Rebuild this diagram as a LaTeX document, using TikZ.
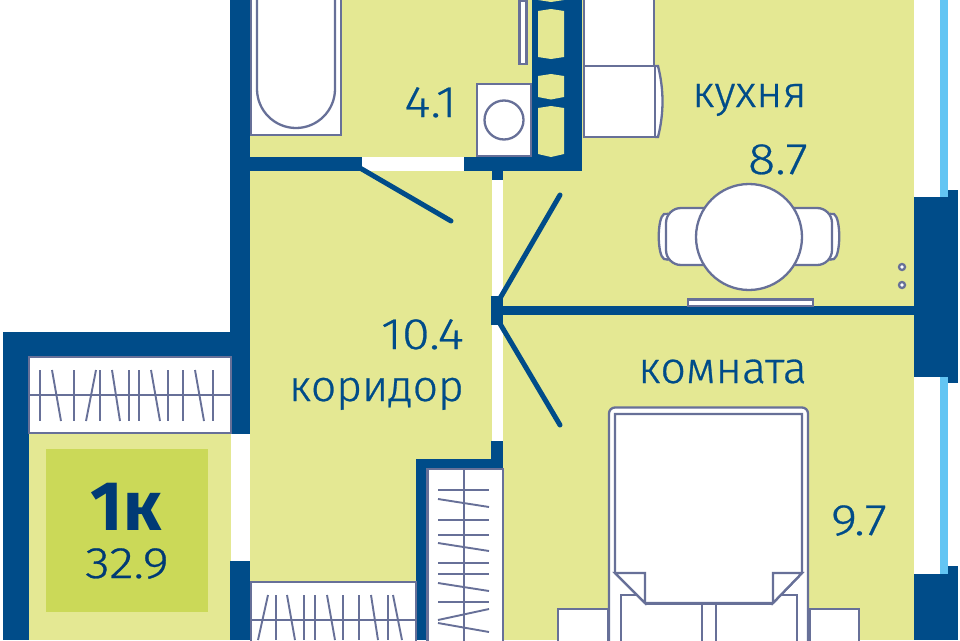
\documentclass[tikz,border=0pt]{standalone}
\usepackage{fontspec}
\setmainfont{Fira Sans Light}[BoldFont={Fira Sans Bold}]
\newfontface\numface{Fira Sans Light}[FakeStretch=1.15,FakeBold=0.6]
\newfontface\wordface{Fira Sans Light}[FakeStretch=1.02,FakeBold=0.6]
\definecolor{wall}{HTML}{004C89}
\definecolor{room}{HTML}{E4E893}
\definecolor{badge}{HTML}{CBD958}
\definecolor{furn}{HTML}{677098}
\definecolor{glass}{HTML}{63C5F3}
\definecolor{inktext}{HTML}{004C89}
\definecolor{darktext}{HTML}{003A75}
\tikzset{
  wallfill/.style={fill=wall,draw=none},
  roomfill/.style={fill=room,draw=none},
  furniture/.style={draw=furn,fill=white,line width=2.3pt},
  tick/.style={draw=furn,line width=1.9pt},
  doorleaf/.style={draw=wall,line width=5pt,line cap=round},
  lbl/.style={text=inktext,font=\fontsize{44}{44}\selectfont\wordface,inner sep=0pt,anchor=base east},
  numlbl/.style={text=inktext,font=\fontsize{44}{44}\selectfont\numface,inner sep=0pt,anchor=base east},
}
\begin{document}
\begin{tikzpicture}[x=1pt,y=-1pt]
\useasboundingbox (0,0) rectangle (960,640);
\fill[white] (0,0) rectangle (960,640);
% floors
\fill[roomfill] (250,0) rectangle (914,640);
\fill[roomfill] (29,433) rectangle (231,640);
% balcony and outer walls
\fill[wallfill] (230,0) rectangle (250,434);
\fill[wallfill] (3,332) rectangle (230,358);
\fill[wallfill] (3,332) rectangle (29,640);
\fill[wallfill] (230,561) rectangle (250,640);
% bathroom partition
\fill[wallfill] (250,157) rectangle (362,171);
\fill[white] (362,157) rectangle (464,171);
\fill[wallfill] (464,157) rectangle (582,171);
\fill[wallfill] (532,0) rectangle (582,171);
% shafts
\fill[roomfill] (538,-3) -- (564,-3) -- (564,0) -- (551,2) -- (538,0) -- cycle;
\fill[roomfill] (538,11) -- (551,9) -- (564,11) -- (564,57) -- (551,59) -- (538,57) -- cycle;
\fill[roomfill] (538,76) -- (551,74) -- (564,76) -- (564,97) -- (551,99.5) -- (538,97) -- cycle;
\fill[roomfill] (538,108) -- (551,106) -- (564,108) -- (564,154) -- (551,157) -- (538,154) -- cycle;
% corridor partition
\fill[wallfill] (492,171) rectangle (503,180);
\fill[white] (492,180) rectangle (503,296);
\fill[wallfill] (491,296) rectangle (503,325);
\fill[white] (492,325) rectangle (503,441);
\fill[wallfill] (491,441) rectangle (503,468);
\fill[wallfill] (416,459) rectangle (503,469);
\fill[wallfill] (416,459) rectangle (427,640);
\fill[wallfill] (503,306) rectangle (914,315);
% right wall and windows
\fill[white] (914,0) rectangle (940,197);
\fill[glass] (940,0) rectangle (948,197);
\fill[wallfill] (914,197) rectangle (948,377);
\fill[wallfill] (948,190) rectangle (958,383);
\fill[white] (914,377) rectangle (940,574);
\fill[glass] (940,377) rectangle (948,574);
\fill[wallfill] (914,574) rectangle (948,640);
\fill[wallfill] (948,566) rectangle (958,640);
% doors
\coordinate (d1a) at (360,168); \coordinate (d1b) at (451,221);
\coordinate (d2a) at (499,300); \coordinate (d2b) at (560,195);
\coordinate (d3a) at (499,322); \coordinate (d3b) at (560,425);
\draw[doorleaf] (d1a) -- (d1b);
\draw[doorleaf] (d2a) -- (d2b);
\draw[doorleaf] (d3a) -- (d3b);
% balcony wardrobe
\draw[furniture] (29,357) rectangle (231,433);
\draw[tick] (29,395) -- (231,395);
\foreach \a/\b in {40/40,52/61,74/74,96/86,100/100,112/120,129/129,139/139,151/160,168/168,183/183,195/204,213/213}
  \draw[tick] (\a,370) -- (\b,421);
% lower-left wardrobe
\draw[furniture] (251,582) rectangle (416,645);
\draw[tick] (250,620) -- (416,620);
\foreach \a/\b in {268/258,276/276,287/295,304/304,315/315,327/335,343/343,359/359,371/378,388/388,393/402}
  \draw[tick] (\a,595) -- (\b,640);
% corridor wardrobe
\draw[furniture] (427.5,469) rectangle (503,645);
\draw[tick] (464,469) -- (464,645);
\foreach \a/\b in {490/490,499/507,520/520,535/535,543/551,563/563,574/574,583/591,602/602,620/609,623/632}
  \draw[tick] (438,\a) -- (489,\b);
% bath
\draw[furniture] (251,-3) rectangle (341,135);
\draw[furniture] (257,-3) -- (257,89) .. controls (257,110.5) and (274.5,128) .. (296,128) .. controls (317.5,128) and (335,110.5) .. (335,89) -- (335,-3);
% hand rail and washer
\draw[furniture] (519.5,1) rectangle (526.5,64);
\draw[furniture] (477,84) rectangle (531,156);
\draw[furniture] (504,120) circle[radius=19.5];
% kitchen units
\draw[furniture] (584,-3) rectangle (654,66);
\draw[furniture] (655,66) -- (658,66) .. controls (664,90) and (664,113) .. (658,137) -- (655,137);
\draw[furniture] (584,66) rectangle (655,137);
% table and chairs
\draw[furniture] (664,214) .. controls (657,218) and (657,255) .. (664,259) .. controls (667,260) and (669,260) .. (671,258) -- (671,216) .. controls (669,214) and (667,213) .. (664,214) -- cycle;
\draw[furniture] (834,214) .. controls (841,218) and (841,255) .. (834,259) .. controls (831,260) and (829,260) .. (827,258) -- (827,216) .. controls (829,214) and (831,213) .. (834,214) -- cycle;
\draw[furniture,rounded corners=15pt] (710,208) -- (666,208) -- (666,265) -- (710,265);
\draw[furniture,rounded corners=15pt] (790,208) -- (832,208) -- (832,265) -- (790,265);
\draw[furniture] (749,237) circle[radius=53];
% radiator and pipes
\draw[furniture] (688,299.5) rectangle (813,306);
\draw[furniture] (902,267) circle[radius=3];
\draw[furniture] (902,285) circle[radius=3];
% nightstands
\draw[furniture] (558,609) rectangle (608,645);
\draw[furniture] (810,609) rectangle (859,645);
% bed
\draw[furniture,rounded corners=6pt] (609,645) -- (609,407.5) -- (808,407.5) -- (808,645);
\draw[furniture] (621,595) rectangle (702,645);
\draw[furniture] (716,595) rectangle (797,645);
\draw[furniture] (615,573) -- (615,414) -- (802,414) -- (802,573) -- (773,603) -- (645,603) -- cycle;
\draw[furniture] (615,573) -- (645,573) -- (645,603) -- cycle;
\draw[furniture] (802,573) -- (773,573) -- (773,603) -- cycle;
\draw[draw=furn,line width=3.5pt] (645,603.5) -- (773,603.5);
% badge
\fill[badge] (46,449) rectangle (208,612);
\node[text=darktext,inner sep=0pt,anchor=base,font=\fontsize{70}{70}\selectfont\bfseries] (kind) at (126,530) {1к};
\node[text=darktext,inner sep=0pt,anchor=base,font=\fontsize{44}{44}\selectfont\numface] (total) at (127,578) {32.9};
% labels
\node[numlbl] (bath) at (457,117) {4.1};
\node[lbl] (kitchen) at (807,107) {кухня};
\node[numlbl] (kitchenarea) at (808,174) {8.7};
\node[numlbl] (corridorarea) at (464,349) {10.4};
\node[lbl,font=\fontsize{43.5}{44}\selectfont\wordface] (corridor) at (464,401) {коридор};
\node[lbl] (roomname) at (807,383) {комната};
\node[numlbl] (roomarea) at (887,535) {9.7};
\end{tikzpicture}
\end{document}
